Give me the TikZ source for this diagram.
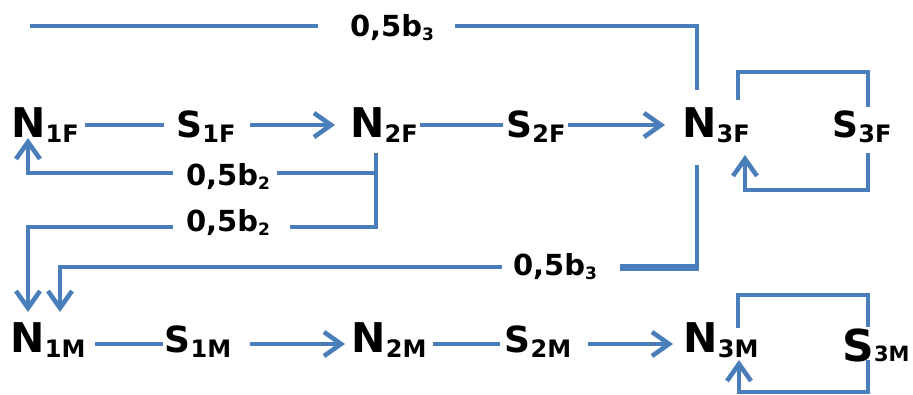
\documentclass[tikz,border=0pt]{standalone}
\usepackage{fontspec}
\setmainfont{DejaVu Sans}
\usetikzlibrary{arrows.meta}
\definecolor{linkblue}{RGB}{74,126,187}
\newcommand{\nsub}[1]{\raisebox{-5pt}{\fontsize{24}{24}\selectfont #1}}
\newcommand{\bsub}[1]{\raisebox{-4pt}{\fontsize{17}{17}\selectfont #1}}

\begin{document}
\begin{tikzpicture}[x=1pt, y=-1pt,
    link/.style={draw=linkblue, line width=4.6pt},
    arr/.style={link, -{Straight Barb[length=17pt, width=24pt]}},
    nlab/.style={inner sep=0pt, anchor=base, font=\bfseries\fontsize{41}{41}\selectfont},
    slab/.style={nlab, font=\bfseries\fontsize{36}{36}\selectfont},
    blab/.style={nlab, font=\bfseries\fontsize{29}{29}\selectfont}]
        \useasboundingbox (0,0) rectangle (913,394);

        % Reihe F
        \node [nlab] (N1F) at (45,137) {N\nsub{1F}};
        \node [slab] (S1F) at (206,137) {S\nsub{1F}};
        \node [nlab] (N2F) at (384,137) {N\nsub{2F}};
        \node [slab] (S2F) at (536,137) {S\nsub{2F}};
        \node [nlab] (N3F) at (716,137) {N\nsub{3F}};
        \node [slab] (S3F) at (862,137) {S\nsub{3F}};

        % Reihe M
        \node [nlab] (N1M) at (48,352) {N\nsub{1M}};
        \node [slab] (S1M) at (198,352) {S\nsub{1M}};
        \node [nlab] (N2M) at (389,352) {N\nsub{2M}};
        \node [slab] (S2M) at (538,352) {S\nsub{2M}};
        \node [nlab] (N3M) at (721,352) {N\nsub{3M}};
        \node [slab] (S3M) at (876,361) {{\fontsize{44}{44}\selectfont S}{\fontsize{21}{21}\selectfont 3M}};

        % Anteile
        \node [blab] (b3top) at (392,36) {0,5b\bsub{3}};
        \node [blab] (b2up) at (228,185) {0,5b\bsub{2}};
        \node [blab] (b2low) at (228,231) {0,5b\bsub{2}};
        \node [blab] (b3low) at (555,275) {0,5b\bsub{3}};
        \coordinate (topend) at (30,26);

        % Hauptkette
        \draw [link] ([xshift=40pt,yshift=12pt]N1F.base) -- ([xshift=-42pt,yshift=12pt]S1F.base);
        \draw [arr] ([xshift=44pt,yshift=12pt]S1F.base) -- ([xshift=-49pt,yshift=12pt]N2F.base);
        \draw [link] ([xshift=36pt,yshift=12pt]N2F.base) -- ([xshift=-33pt,yshift=12pt]S2F.base);
        \draw [arr] ([xshift=32pt,yshift=12pt]S2F.base) -- ([xshift=-51pt,yshift=12pt]N3F.base);

        \draw [link] ([xshift=47pt,yshift=8pt]N1M.base) -- ([xshift=-35pt,yshift=8pt]S1M.base);
        \draw [arr] ([xshift=52pt,yshift=8pt]S1M.base) -- ([xshift=-44pt,yshift=8pt]N2M.base);
        \draw [link] ([xshift=44pt,yshift=8pt]N2M.base) -- ([xshift=-38pt,yshift=8pt]S2M.base);
        \draw [arr] ([xshift=50pt,yshift=8pt]S2M.base) -- ([xshift=-48pt,yshift=8pt]N3M.base);

        % Schleifen
        \draw [link] ([xshift=22pt,yshift=37pt]N3F.base) |- ([xshift=6pt,yshift=65pt]S3F.base) -- ([xshift=6pt,yshift=30pt]S3F.base);
        \draw [arr] ([xshift=6pt,yshift=-16pt]S3F.base) |- ([xshift=29pt,yshift=-53pt]N3F.base) -- ([xshift=29pt,yshift=-18pt]N3F.base);
        \draw [link] ([xshift=17pt,yshift=24pt]N3M.base) |- ([xshift=-8pt,yshift=66pt]S3M.base) -- ([xshift=-8pt,yshift=34pt]S3M.base);
        \draw [arr] ([xshift=-8pt,yshift=1pt]S3M.base) |- ([xshift=18pt,yshift=-40pt]N3M.base) -- ([xshift=18pt,yshift=-8pt]N3M.base);

        % Rueckfuehrung b3
        \draw [link] ([xshift=-19pt,yshift=47pt]N3F.base) |- ([xshift=63pt,yshift=10pt]b3top.base);
        \draw [link] ([xshift=-74pt,yshift=10pt]b3top.base) -- (topend);
        \draw [link] ([xshift=-19pt,yshift=-28pt]N3F.base) -- ([xshift=-19pt,yshift=-130pt]N3F.base);
        \draw [link, line width=7pt] ([xshift=-17pt,yshift=-130pt]N3F.base) -- ([xshift=65pt,yshift=8pt]b3low.base);
        \draw [arr] ([xshift=-53pt,yshift=8pt]b3low.base) -| ([xshift=12pt,yshift=40pt]N1M.base);

        % Rueckfuehrung b2
        \draw [link] ([xshift=-8pt,yshift=-16pt]N2F.base) |- ([xshift=62pt,yshift=4pt]b2low.base);
        \draw [link] ([xshift=-8pt,yshift=-36pt]N2F.base) -- ([xshift=49pt,yshift=12pt]b2up.base);
        \draw [arr] ([xshift=-55pt,yshift=12pt]b2up.base) -| ([xshift=-17pt,yshift=-1pt]N1F.base);
        \draw [arr] ([xshift=-55pt,yshift=4pt]b2low.base) -| ([xshift=-20pt,yshift=40pt]N1M.base);
\end{tikzpicture}
\end{document}
